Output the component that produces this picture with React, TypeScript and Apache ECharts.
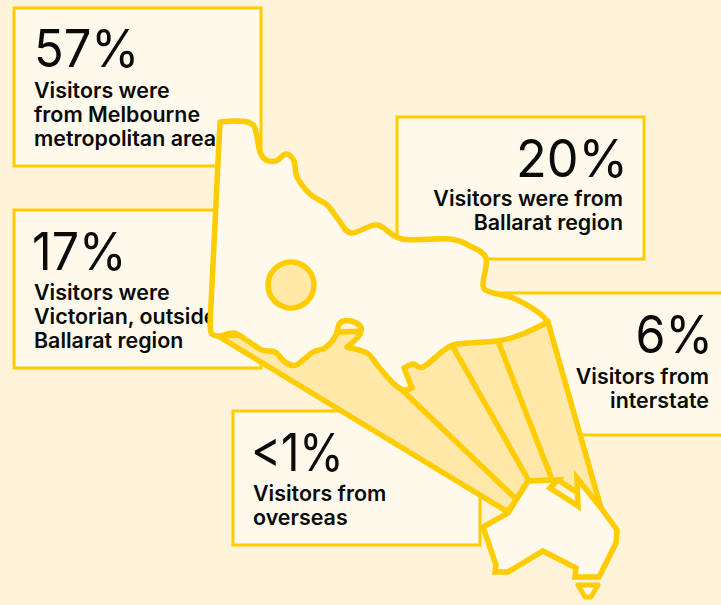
import React, { useEffect, useRef } from "react";
import * as echarts from "echarts";

const percents = ["57%", "20%", "17%", "6%", "<1%"];
const descriptions = [
  "Visitors were\nfrom Melbourne\nmetropolitan area",
  "Visitors were from\nBallarat region",
  "Visitors were\nVictorian, outside\nBallarat region",
  "Visitors from\ninterstate",
  "Visitors from\noverseas",
];
const aligns = ["left", "right", "left", "right", "left"];

type P = [number, number];
const catmull = (pts: P[]) => {
  let d = "";
  for (let i = 0; i < pts.length - 1; i++) {
    const p0 = pts[Math.max(i - 1, 0)], p1 = pts[i], p2 = pts[i + 1], p3 = pts[Math.min(i + 2, pts.length - 1)];
    const c1 = [p1[0] + (p2[0] - p0[0]) / 6, p1[1] + (p2[1] - p0[1]) / 6];
    const c2 = [p2[0] - (p3[0] - p1[0]) / 6, p2[1] - (p3[1] - p1[1]) / 6];
    d += ` C${c1[0]} ${c1[1]} ${c2[0]} ${c2[1]} ${p2[0]} ${p2[1]}`;
  }
  return d;
};
const vicRuns: P[][] = [
  [[220,122],[233,121],[247,122],[254,126],[257,137],[260,152],[266,160],[276,161],[286,154],[294,161],[297,177],[310,194],[327,205],[338,219],[351,233],[377,225],[402,239],[450,239],[470,246],[486,258],[483,285],[490,292],[513,298],[538,312],[548,322]],
  [[548,322],[520,335],[497,341],[457,344],[443,351],[423,367],[413,364],[404,368]],
  [[404,368],[412,388]],
  [[412,388],[403,390],[392,382],[378,366],[367,353],[347,347]],
  [[347,347],[358,337],[361,327],[351,321],[340,323],[335,337],[325,348],[313,352],[296,365],[285,362],[275,352],[262,350],[248,341],[234,333],[220,336],[212,334],[210,325]],
  [[210,325],[220,122]],
];
const vicPath = "M220 122" + vicRuns.map(catmull).join("") + " Z";
echarts.graphic.registerShape("vicShape", echarts.graphic.extendPath(vicPath, {}));

const boxes = [
  [14, 8, 247, 158], [397, 117, 247, 142], [14, 210, 247, 158], [490, 293, 260, 142], [233, 411, 247, 134],
];
const numberPos = [[34, 48], [628, 158], [32, 251], [713, 334], [251, 452]];
const numberScale = [0.94, 0.97, 0.93, 0.93, 0.87];
const textPos = [[34, 78], [623, 186], [34, 280], [709, 364], [253, 481]];

const COL = "#FFCC00", BG = "#FFF4D9", BOX = "#FFFAEC", FAN = "#FFE8A8", INK = "#0A0A0A";
const australia: P[] = [[528,481],[558,480],[550,488],[578,506],[577,478],[601,508],[617,530],[616,543],[599,577],[575,577],[576,568],[543,551],[508,572],[495,572],[496,565],[483,527],[508,513]];
const tasmania: P[] = [[578,585],[598,585],[591,597],[585,597]];
const fan: P[] = [[218,336],[508,512],[528,481],[558,480],[601,508],[548,322],[400,330]];
const dividers: P[][] = [
  [[403,391],[515,498]],
  [[453,347],[529,481]],
  [[498,341],[553,482]],
];

export default function App() {
  const ref = useRef<HTMLDivElement>(null);
  useEffect(() => {
    document.body.style.margin = "0";
    const chart = echarts.init(ref.current!, undefined, { renderer: "svg" });
    const els: any[] = [];
    boxes.forEach((b) => {
      els.push({ type: "rect", shape: { x: b[0], y: b[1], width: b[2], height: b[3] }, style: { fill: BOX, stroke: COL, lineWidth: 3 } });
    });
    percents.forEach((p, i) => {
      els.push({ type: "text", x: numberPos[i][0], y: numberPos[i][1], scaleX: numberScale[i], style: { text: p, fill: INK, font: '400 52px Inter', textAlign: aligns[i], textVerticalAlign: "middle" } });
      els.push({ type: "text", x: textPos[i][0], y: textPos[i][1], scaleX: 1.02, style: { text: descriptions[i], fill: INK, font: '600 21px Inter', lineHeight: 24, textAlign: aligns[i], textVerticalAlign: "top" } });
    });
    els.push({ type: "polygon", shape: { points: fan }, style: { fill: FAN, stroke: COL, lineWidth: 5.5, lineJoin: "miter" } });
    dividers.forEach((d) => {
      els.push({ type: "line", shape: { x1: d[0][0], y1: d[0][1], x2: d[1][0], y2: d[1][1] }, style: { stroke: COL, lineWidth: 5.5 } });
    });
    els.push({ type: "vicShape", style: { fill: BOX, stroke: COL, lineWidth: 5.5, lineJoin: "round" } });
    els.push({ type: "circle", shape: { cx: 291, cy: 285, r: 23 }, style: { fill: FAN, stroke: COL, lineWidth: 5.5 } });
    els.push({ type: "polygon", shape: { points: australia }, style: { fill: BOX, stroke: COL, lineWidth: 5.5, lineJoin: "miter" } });
    els.push({ type: "polygon", shape: { points: tasmania }, style: { fill: BOX, stroke: COL, lineWidth: 5, lineJoin: "round" } });
    chart.setOption({ animation: false, backgroundColor: BG, graphic: { elements: els } });
    return () => chart.dispose();
  }, []);
  return <div ref={ref} style={{ width: 721, height: 605 }} />;
}
